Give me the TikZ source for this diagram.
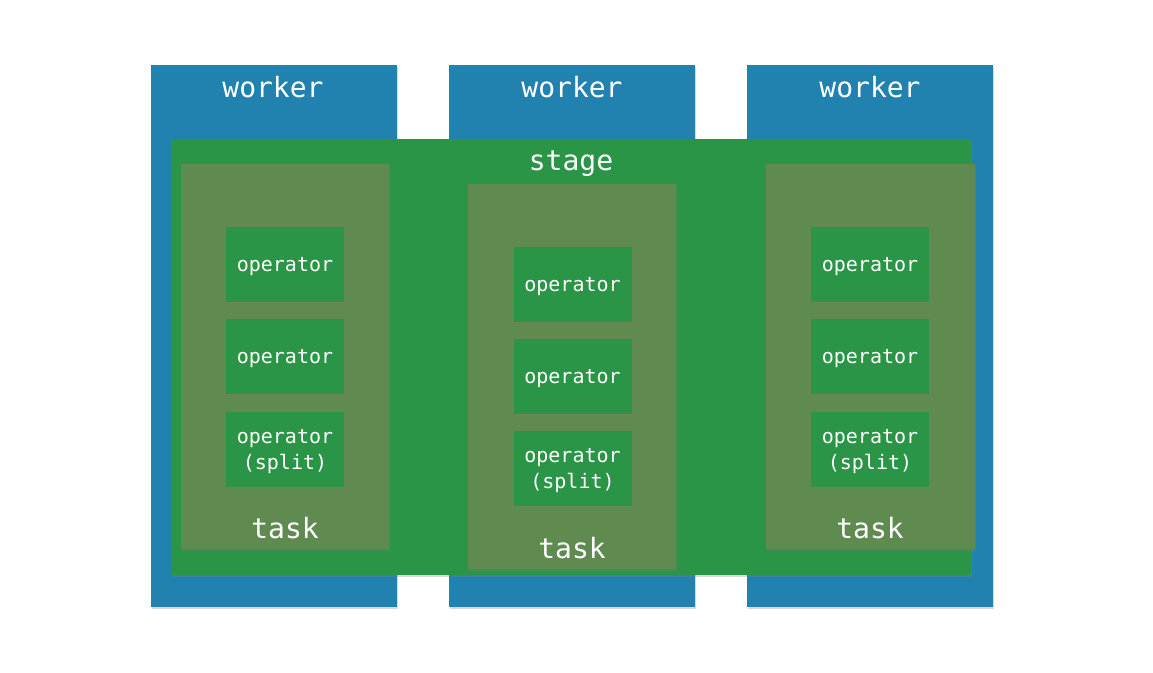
\documentclass[tikz,border=0pt]{standalone}
\usepackage{fontspec}
\setmonofont{DejaVu Sans Mono}
\usepackage{xcolor}
\usepackage{tikz}
\usetikzlibrary{positioning,shadows}
\definecolor{workerc}{HTML}{2182B0}
\definecolor{stagec}{HTML}{2A9547}
\definecolor{taskc}{HTML}{5F8B51}
\definecolor{opc}{HTML}{2A9547}
\tikzset{
  card/.style={inner sep=0pt,
    drop shadow={shadow xshift=1pt,shadow yshift=-1.5pt,opacity=.3}},
  worker/.style={card,fill=workerc,minimum width=246pt,minimum height=542pt},
  stagebox/.style={card,fill=stagec,minimum width=800pt,minimum height=436pt},
  taskbox/.style={card,fill=taskc,minimum width=208pt,minimum height=385pt},
  opbox/.style={card,fill=opc,minimum width=118pt,minimum height=75pt,text depth=0pt,
    align=center,text=white,font=\ttfamily\fontsize{20}{26}\selectfont},
  biglab/.style={text=white,inner sep=0pt,font=\ttfamily\fontsize{28}{30}\selectfont},
}
\begin{document}
\begin{tikzpicture}[x=1pt,y=-1pt]
  \useasboundingbox (0,0) rectangle (1153,672);
  % workers
  \node[worker](w1) at (274,336){};
  \node[worker](w2) at (572,336){};
  \node[worker](w3) at (870,336){};
  \node[biglab](w1lab) at (273,87){worker};
  \node[biglab](w2lab) at (572,87){worker};
  \node[biglab](w3lab) at (870,87){worker};
  % stage
  \node[stagebox](stage) at (571,357){};
  \node[biglab](stagelab) at (571,164){stage};
  % tasks
  \node[taskbox](t1) at (285,356.5){};
  \node[taskbox](t2) at (572,376.5){};
  \node[taskbox,minimum width=209pt](t3) at (870.5,356.5){};
  \node[biglab](t1lab) at (285,528){task};
  \node[biglab](t2lab) at (572,548){task};
  \node[biglab](t3lab) at (870,528){task};
  % operators
  \node[opbox](op11) at (285,264){operator};
  \node[opbox](op12) at (285,356){operator};
  \node[opbox](op13) at (285,449){operator\\(split)};
  \node[opbox](op21) at (572.5,284){operator};
  \node[opbox](op22) at (572.5,376.5){operator};
  \node[opbox](op23) at (572.5,468.5){operator\\(split)};
  \node[opbox](op31) at (870,264){operator};
  \node[opbox](op32) at (870,356){operator};
  \node[opbox](op33) at (870,449){operator\\(split)};
\end{tikzpicture}
\end{document}
